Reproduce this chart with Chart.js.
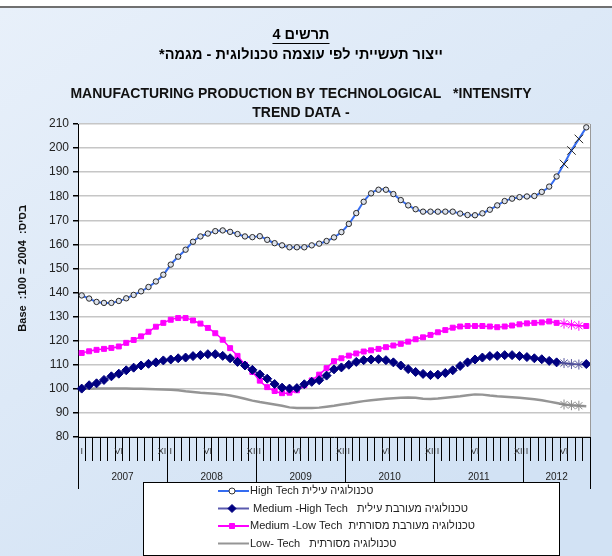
<!DOCTYPE html>
<html lang="he">
<head>
<meta charset="utf-8">
<title>Manufacturing production by technological intensity</title>
<script src="https://cdn.jsdelivr.net/npm/chart.js@4.4.1/dist/chart.umd.min.js"></script>
<style>
  html, body { margin: 0; padding: 0; background: #fff; }
  #wrap { width: 612px; height: 556px; }
</style>
</head>
<body>
<div id="wrap"><canvas id="techChart" width="612" height="556"></canvas></div>
<script>
// Monthly categories, Jan 2007 - Sep 2012 (only I, VI, XII are labelled)
const monthLabels = [
  'I', '', '', '', '', 'VI', '', '', '', '', '', 'XII',   // 2007
  'I', '', '', '', '', 'VI', '', '', '', '', '', 'XII',   // 2008
  'I', '', '', '', '', 'VI', '', '', '', '', '', 'XII',   // 2009
  'I', '', '', '', '', 'VI', '', '', '', '', '', 'XII',   // 2010
  'I', '', '', '', '', 'VI', '', '', '', '', '', 'XII',   // 2011
  'I', '', '', '', '', 'VI', '', '', ''                   // 2012
];
const years = ['2007', '2008', '2009', '2010', '2011', '2012'];
const yearStarts = [0, 12, 24, 36, 48, 60];

// Points shown with asterisk / cross markers (preliminary months)
const prelimIdx = [65, 66, 67];

const highTech = [
  138.8, 137.5, 136.1, 135.7, 135.7, 136.5, 137.6, 139.0, 140.5, 142.3, 144.6, 147.4,
  151.6, 154.9, 157.8, 161.1, 163.3, 164.5, 165.5, 165.8, 165.2, 164.3, 163.3, 163.0,
  163.4, 161.9, 160.5, 159.6, 158.8, 158.8, 158.8, 159.6, 160.3, 161.4, 162.9, 165.1,
  168.5, 173.0, 177.7, 181.2, 182.7, 182.7, 180.9, 178.4, 176.2, 174.6, 173.6, 173.6,
  173.6, 173.6, 173.6, 172.8, 172.2, 172.1, 172.9, 174.4, 176.2, 178.0, 179.0, 179.6,
  179.9, 180.1, 181.8, 184.0, 188.2, 193.4, 199.0, 203.8, 208.6
];
const mediumHigh = [
  100.1, 101.5, 102.3, 103.7, 105.2, 106.3, 107.7, 108.8, 109.7, 110.4, 111.0, 111.8,
  112.2, 112.7, 113.0, 113.6, 114.0, 114.4, 114.4, 113.7, 112.7, 111.2, 109.7, 107.9,
  106.0, 104.2, 102.0, 100.5, 100.1, 100.3, 101.9, 102.9, 103.6, 105.5, 108.1, 108.9,
  110.0, 111.2, 111.9, 112.2, 112.3, 111.9, 111.0, 109.7, 108.2, 107.0, 106.2, 105.7,
  105.9, 106.6, 107.7, 109.5, 111.0, 112.2, 113.0, 113.6, 113.7, 114.0, 114.0, 113.6,
  113.2, 112.7, 112.3, 111.6, 111.0, 110.7, 110.3, 110.1, 110.3
];
const mediumLow = [
  114.9, 115.6, 116.2, 116.6, 117.0, 117.6, 119.1, 120.3, 121.8, 123.7, 125.8, 127.4,
  128.7, 129.4, 129.4, 128.4, 127.1, 125.3, 123.1, 120.4, 116.9, 113.7, 110.0, 107.0,
  103.4, 100.7, 99.1, 98.2, 98.4, 99.4, 101.5, 103.5, 105.9, 108.6, 111.5, 112.7,
  113.8, 114.7, 115.5, 116.0, 116.6, 117.3, 118.0, 118.7, 119.6, 120.6, 121.4, 122.4,
  123.5, 124.4, 125.4, 125.9, 126.1, 126.1, 126.1, 125.9, 125.6, 125.9, 126.3, 126.8,
  127.2, 127.4, 127.6, 128.0, 127.4, 127.1, 126.6, 126.2, 126.1
];
const lowTech = [
  100.0, 100.0, 100.1, 100.1, 100.1, 100.1, 100.1, 100.0, 100.0, 99.9, 99.8, 99.7,
  99.6, 99.4, 99.0, 98.7, 98.4, 98.2, 98.0, 97.7, 97.2, 96.6, 95.9, 95.1,
  94.5, 94.0, 93.5, 93.0, 92.3, 92.0, 92.0, 92.0, 92.2, 92.6, 93.0, 93.5,
  93.9, 94.4, 94.9, 95.3, 95.6, 95.9, 96.1, 96.3, 96.4, 96.3, 95.9, 95.8,
  96.0, 96.3, 96.6, 96.9, 97.3, 97.7, 97.6, 97.2, 96.9, 96.7, 96.5, 96.3,
  96.0, 95.7, 95.3, 94.7, 94.1, 93.5, 93.2, 93.0, 92.8
];

const seriesLabels = [
  'High Tech טכנולוגיה עילית',
  ' Medium -High Tech   טכנולוגיה מעורבת עילית',
  'Medium -Low Tech  טכנולוגיה מעורבת מסורתית',
  'Low- Tech   טכנולוגיה מסורתית'
];

const titleLines = ['תרשים 4', '*ייצור תעשייתי לפי עוצמה טכנולוגית - מגמה'];
const subtitleLines = ['MANUFACTURING PRODUCTION BY TECHNOLOGICAL   *INTENSITY', 'TREND DATA -'];
// leading spaces nudge the rotated title up a little, as in the original
const yTitle = '        Base  :100 = 2004  :בסיס';

const FONT = "'Liberation Sans', Arial, sans-serif";
const isPrelim = c => prelimIdx.includes(c.dataIndex);

// Background, plot frame, year row, underline
const frame = {
  id: 'frame',
  beforeDraw(chart) {
    const { ctx, width, height, chartArea: a } = chart;
    ctx.save();
    ctx.fillStyle = '#fff';
    ctx.fillRect(0, 0, width, height);
    const g = ctx.createLinearGradient(0, 8, width * 0.6, height);
    g.addColorStop(0, '#e8f0fa');
    g.addColorStop(1, '#d2e2f4');
    ctx.fillStyle = g;
    ctx.fillRect(0, 8, width, height - 8);
    ctx.fillStyle = '#707070';
    ctx.fillRect(0, 6, width, 2);
    ctx.fillStyle = '#fff';
    ctx.fillRect(a.left, a.top, a.right - a.left, a.bottom - a.top);
    ctx.restore();
  },
  afterDraw(chart) {
    const { ctx, chartArea: a, scales: { x } } = chart;
    const half = (x.getPixelForValue(1) - x.getPixelForValue(0)) / 2;
    ctx.save();
    // right border of plot
    ctx.strokeStyle = '#9a9a9a';
    ctx.lineWidth = 1;
    ctx.beginPath();
    ctx.moveTo(a.right + 0.5, a.top);
    ctx.lineTo(a.right + 0.5, a.bottom);
    ctx.stroke();
    // year dividers + labels
    ctx.strokeStyle = '#000';
    ctx.fillStyle = '#222';
    ctx.font = `10px ${FONT}`;
    ctx.textAlign = 'center';
    ctx.textBaseline = 'middle';
    const n = monthLabels.length;
    const edges = yearStarts.concat([n]);
    edges.forEach(k => {
      const px = Math.round(x.getPixelForValue(k) - half) + 0.5;
      ctx.beginPath();
      ctx.moveTo(px, a.bottom);
      ctx.lineTo(px, a.bottom + 52);
      ctx.stroke();
    });
    years.forEach((yr, i) => {
      const s = yearStarts[i];
      const e = (i + 1 < yearStarts.length ? yearStarts[i + 1] : n) - 1;
      const cx = (x.getPixelForValue(s) + x.getPixelForValue(e)) / 2;
      ctx.fillText(yr, cx, a.bottom + 40);
    });
    // underline of first title line
    const tb = chart.titleBlock;
    if (tb) {
      ctx.font = `bold 14.5px ${FONT}`;
      const w = ctx.measureText(titleLines[0]).width;
      const cx = (tb.left + tb.right) / 2;
      ctx.fillStyle = '#000';
      ctx.fillRect(cx - w / 2, tb.top + 43, w, 1);
    }
    ctx.restore();
  }
};

// Boxed legend below the axis
function drawMarker(ctx, style, x, y, r, fill, stroke) {
  ctx.fillStyle = fill;
  ctx.strokeStyle = stroke;
  ctx.lineWidth = 1;
  ctx.beginPath();
  if (style === 'circle') {
    ctx.arc(x, y, r, 0, Math.PI * 2);
  } else if (style === 'rectRot') {
    ctx.moveTo(x, y - r); ctx.lineTo(x + r, y); ctx.lineTo(x, y + r); ctx.lineTo(x - r, y); ctx.closePath();
  } else if (style === 'rect') {
    ctx.rect(x - r, y - r, 2 * r, 2 * r);
  } else {
    return;
  }
  ctx.fill();
  ctx.stroke();
}

const boxLegend = {
  id: 'boxLegend',
  afterDraw(chart) {
    const { ctx } = chart;
    const bx = 143, by = 482, bw = 416, bh = 73;
    ctx.save();
    ctx.fillStyle = '#fff';
    ctx.fillRect(bx, by, bw, bh);
    ctx.strokeStyle = '#000';
    ctx.lineWidth = 1;
    ctx.strokeRect(bx + 0.5, by + 0.5, bw, bh);
    const marks = [
      { style: 'circle', r: 3, fill: '#fff', stroke: '#333' },
      { style: 'rectRot', r: 4, fill: '#000080', stroke: '#000080' },
      { style: 'rect', r: 2.5, fill: '#ff00ff', stroke: '#ff00ff' },
      { style: 'none' }
    ];
    chart.data.datasets.forEach((ds, i) => {
      const y = by + 9 + i * 17.5;
      ctx.strokeStyle = ds.legendLine || ds.borderColor;
      ctx.lineWidth = 2;
      ctx.beginPath();
      ctx.moveTo(218, y);
      ctx.lineTo(249, y);
      ctx.stroke();
      const m = marks[i];
      drawMarker(ctx, m.style, 232, y, m.r, m.fill, m.stroke);
      ctx.fillStyle = '#222';
      ctx.font = `11px ${FONT}`;
      ctx.textAlign = 'left';
      ctx.textBaseline = 'middle';
      ctx.fillText(ds.label, 250, y);
    });
    ctx.restore();
  }
};

const chart = new Chart(document.getElementById('techChart'), {
  type: 'line',
  data: {
    labels: monthLabels,
    datasets: [
      {
        label: seriesLabels[0],
        data: highTech,
        borderColor: '#356cf0',
        borderWidth: 2,
        tension: 0.35,
        pointStyle: c => isPrelim(c) ? 'crossRot' : 'circle',
        pointRadius: c => isPrelim(c) ? 6 : 2.7,
        pointBackgroundColor: '#dde2ec',
        pointBorderColor: '#2a2a2a',
        pointBorderWidth: 1
      },
      {
        label: seriesLabels[1],
        data: mediumHigh,
        borderColor: '#2c2c8c',
        legendLine: '#5a5aae',
        borderWidth: 1.5,
        tension: 0.35,
        pointStyle: c => isPrelim(c) ? 'star' : 'rectRot',
        pointRadius: c => isPrelim(c) ? 5 : 4.5,
        pointBackgroundColor: '#000080',
        pointBorderColor: c => isPrelim(c) ? '#55559c' : '#000080',
        pointBorderWidth: 1
      },
      {
        label: seriesLabels[2],
        data: mediumLow,
        borderColor: '#ff00ff',
        borderWidth: 1.5,
        tension: 0.35,
        pointStyle: c => isPrelim(c) ? 'star' : 'rect',
        pointRadius: c => isPrelim(c) ? 5 : 3.5,
        pointBackgroundColor: '#ff00ff',
        pointBorderColor: '#ff00ff',
        pointBorderWidth: 1
      },
      {
        label: seriesLabels[3],
        data: lowTech,
        borderColor: '#959595',
        borderWidth: 2.5,
        tension: 0,
        pointStyle: 'star',
        pointRadius: c => isPrelim(c) ? 5 : 0,
        pointBorderColor: '#8a8a8a',
        pointBorderWidth: 1
      }
    ]
  },
  options: {
    responsive: false,
    animation: false,
    devicePixelRatio: 1,
    layout: { padding: { left: 0, top: 0, right: 10, bottom: 0 } },
    scales: {
      x: {
        type: 'category',
        offset: true,
        grid: { offset: true, drawOnChartArea: false, drawTicks: true, tickLength: 24, color: '#000', tickColor: '#000', lineWidth: 1 },
        border: { color: '#000', width: 1 },
        ticks: { autoSkip: false, maxRotation: 0, minRotation: 0, padding: -15, font: { size: 9, family: FONT }, color: '#333' },
        afterFit: s => { s.height = 119; }
      },
      y: {
        min: 80,
        max: 210,
        ticks: { stepSize: 10, font: { size: 12, family: FONT }, color: '#222', padding: 4 },
        grid: { color: '#c6c6c6', lineWidth: 1.5, tickColor: '#000', tickLength: 5 },
        border: { color: '#000', width: 1 },
        title: { display: true, text: yTitle, font: { size: 11, weight: 'bold', family: FONT }, color: '#111', padding: { top: 16, bottom: 0 } },
        afterFit: s => { s.width = 78; }
      },
      // empty spacer on the right so the titles centre like the original
      yRight: {
        type: 'linear',
        position: 'right',
        display: true,
        grid: { display: false },
        border: { display: false },
        ticks: { display: false },
        afterFit: s => { s.width = 12; }
      }
    },
    plugins: {
      legend: { display: false },
      tooltip: { enabled: false },
      title: {
        display: true,
        text: titleLines,
        color: '#000',
        font: { size: 14.5, weight: 'bold', family: FONT, lineHeight: 20 / 14.5 },
        padding: { top: 25, bottom: 10 }
      },
      subtitle: {
        display: true,
        text: subtitleLines,
        color: '#111',
        font: { size: 14, weight: 'bold', family: FONT, lineHeight: 19 / 14 },
        padding: { top: 10, bottom: 1 }
      }
    }
  },
  plugins: [frame, boxLegend]
});
</script>
</body>
</html>
